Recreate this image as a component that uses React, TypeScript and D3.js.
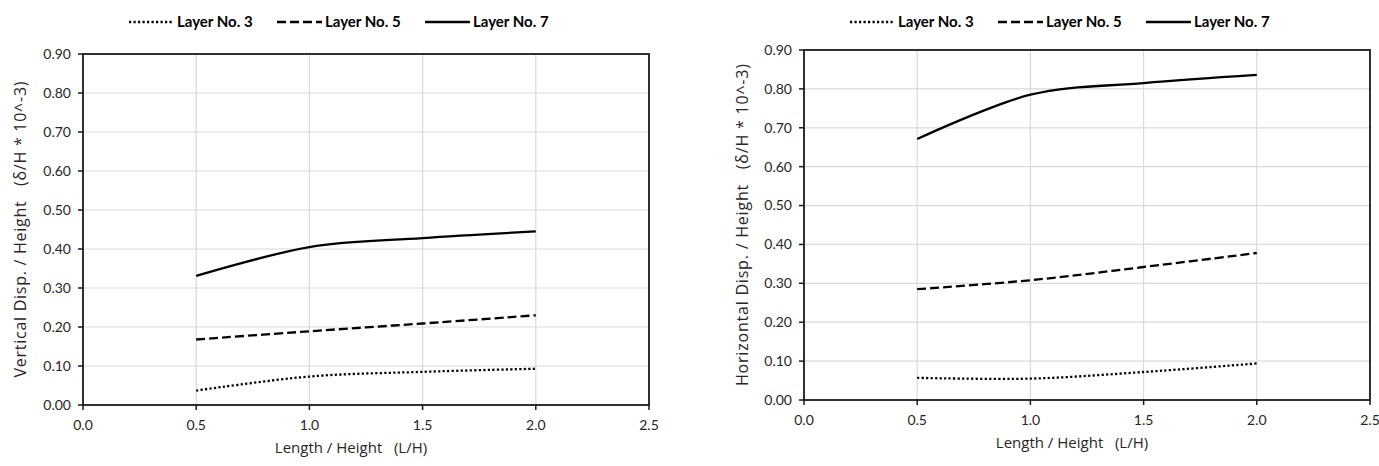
import React, { useEffect, useRef } from "react";
import * as d3 from "d3";

// ---------------- data ----------------
const xValues = [0.5, 1.0, 1.5, 2.0];
const layerNames = ["Layer No. 3", "Layer No. 5", "Layer No. 7"];

const verticalLayer3 = [0.037, 0.073, 0.085, 0.093];
const verticalLayer5 = [0.168, 0.189, 0.209, 0.23];
const verticalLayer7 = [0.331, 0.405, 0.428, 0.445];

const horizontalLayer3 = [0.057, 0.055, 0.072, 0.094];
const horizontalLayer5 = [0.285, 0.308, 0.342, 0.378];
const horizontalLayer7 = [0.671, 0.785, 0.815, 0.836];

const xTicks = [0, 0.5, 1.0, 1.5, 2.0, 2.5];
const yTicks = [0, 0.1, 0.2, 0.3, 0.4, 0.5, 0.6, 0.7, 0.8, 0.9];

const xTitle = "Length / Height   (L/H)";
const leftYTitle = "Vertical Disp. / Height   (\u03B4/H * 10^-3)";
const rightYTitle = "Horizontal Disp. / Height   (\u03B4/H * 10^-3)";

// ---------------- styles ----------------
const dashes = ["2.2,2.3", "9,4", null];
const TICK_FONT = "Lato, 'Open Sans', sans-serif";
const TITLE_FONT = "'Open Sans', Lato, sans-serif";

interface ChartCfg {
  left: number;
  top: number;
  width: number;
  height: number;
  series: number[][];
  yTitle: string;
  yTitleX: number;
  yTitleLen: number;
}

function drawChart(svg: d3.Selection<SVGSVGElement, unknown, null, undefined>, cfg: ChartCfg) {
  const { left, top, width, height } = cfg;
  const x = d3.scaleLinear().domain([0, 2.5]).range([left, left + width]);
  const y = d3.scaleLinear().domain([0, 0.9]).range([top + height, top]);
  const g = svg.append("g");

  // gridlines
  g.selectAll("line.vg")
    .data(xTicks.slice(1, -1))
    .enter()
    .append("line")
    .attr("x1", (d) => x(d))
    .attr("x2", (d) => x(d))
    .attr("y1", top)
    .attr("y2", top + height)
    .attr("stroke", "#d9d9d9")
    .attr("stroke-width", 1.2);
  g.selectAll("line.hg")
    .data(yTicks.slice(1, -1))
    .enter()
    .append("line")
    .attr("x1", left)
    .attr("x2", left + width)
    .attr("y1", (d) => y(d))
    .attr("y2", (d) => y(d))
    .attr("stroke", "#d9d9d9")
    .attr("stroke-width", 1.2);

  // frame
  g.append("rect")
    .attr("x", left)
    .attr("y", top)
    .attr("width", width)
    .attr("height", height)
    .attr("fill", "none")
    .attr("stroke", "#1a1a1a")
    .attr("stroke-width", 1.8);

  // y ticks
  g.selectAll("line.yt")
    .data(yTicks)
    .enter()
    .append("line")
    .attr("x1", left - 5)
    .attr("x2", left)
    .attr("y1", (d) => y(d))
    .attr("y2", (d) => y(d))
    .attr("stroke", "#1a1a1a")
    .attr("stroke-width", 1.5);
  g.selectAll("text.yl")
    .data(yTicks)
    .enter()
    .append("text")
    .attr("x", left - 12)
    .attr("y", (d) => y(d))
    .attr("dy", "0.35em")
    .attr("text-anchor", "end")
    .attr("font-family", TICK_FONT)
    .attr("font-size", 14)
    .attr("fill", "#262626")
    .text((d) => d3.format(".2f")(d));

  // x ticks
  g.selectAll("line.xt")
    .data(xTicks)
    .enter()
    .append("line")
    .attr("x1", (d) => x(d))
    .attr("x2", (d) => x(d))
    .attr("y1", top + height)
    .attr("y2", top + height + 5)
    .attr("stroke", "#1a1a1a")
    .attr("stroke-width", 1.5);
  g.selectAll("text.xl")
    .data(xTicks)
    .enter()
    .append("text")
    .attr("x", (d) => x(d))
    .attr("y", top + height + 25)
    .attr("text-anchor", "middle")
    .attr("font-family", TICK_FONT)
    .attr("font-size", 14)
    .attr("fill", "#262626")
    .text((d) => d3.format(".1f")(d));

  // axis titles
  g.append("text")
    .attr("x", left + width / 2 - 15)
    .attr("y", top + height + 48)
    .attr("text-anchor", "middle")
    .attr("font-family", TITLE_FONT)
    .attr("font-size", 15)
    .attr("fill", "#262626")
    .style("white-space", "pre")
    .text(xTitle);
  g.append("text")
    .attr("transform", `translate(${cfg.yTitleX},${top + height / 2}) rotate(-90)`)
    .attr("text-anchor", "middle")
    .attr("dy", "0.35em")
    .attr("font-family", TITLE_FONT)
    .attr("font-size", 16)
    .attr("fill", "#262626")
    .attr("textLength", cfg.yTitleLen)
    .attr("lengthAdjust", "spacing")
    .style("white-space", "pre")
    .text(cfg.yTitle);

  // lines
  const line = d3
    .line<number>()
    .x((_, i) => x(xValues[i]))
    .y((d) => y(d))
    .curve(d3.curveCardinal.tension(0));
  cfg.series.forEach((vals, i) => {
    const p = g
      .append("path")
      .attr("d", line(vals))
      .attr("fill", "none")
      .attr("stroke", "#000")
      .attr("stroke-width", 2.3);
    if (dashes[i]) p.attr("stroke-dasharray", dashes[i] as string);
  });

  // legend
  const legendY = 22;
  const step = 148;
  layerNames.forEach((name, i) => {
    const sx = left + 46 + i * step;
    const l = g
      .append("line")
      .attr("x1", sx)
      .attr("x2", sx + 45)
      .attr("y1", legendY)
      .attr("y2", legendY)
      .attr("stroke", "#000")
      .attr("stroke-width", 2.3);
    if (dashes[i]) l.attr("stroke-dasharray", dashes[i] as string);
    g.append("text")
      .attr("x", sx + 48)
      .attr("y", legendY)
      .attr("dy", "0.35em")
      .attr("font-family", TICK_FONT)
      .attr("font-weight", "bold")
      .attr("font-size", 15)
      .attr("fill", "#000")
      .text(name);
  });
}

export default function App() {
  const ref = useRef<SVGSVGElement>(null);
  useEffect(() => {
    if (!ref.current) return;
    const svg = d3.select(ref.current);
    svg.selectAll("*").remove();
    svg.append("rect").attr("width", 1379).attr("height", 466).attr("fill", "#fff");
    drawChart(svg, {
      left: 83,
      top: 54,
      width: 566,
      height: 351,
      series: [verticalLayer3, verticalLayer5, verticalLayer7],
      yTitle: leftYTitle,
      yTitleX: 20,
      yTitleLen: 296,
    });
    drawChart(svg, {
      left: 804,
      top: 50,
      width: 566,
      height: 350,
      series: [horizontalLayer3, horizontalLayer5, horizontalLayer7],
      yTitle: rightYTitle,
      yTitleX: 742,
      yTitleLen: 322,
    });
  }, []);
  return (
    <svg
      ref={ref}
      width={1379}
      height={466}
      style={{ position: "absolute", left: 0, top: 0 }}
    />
  );
}
